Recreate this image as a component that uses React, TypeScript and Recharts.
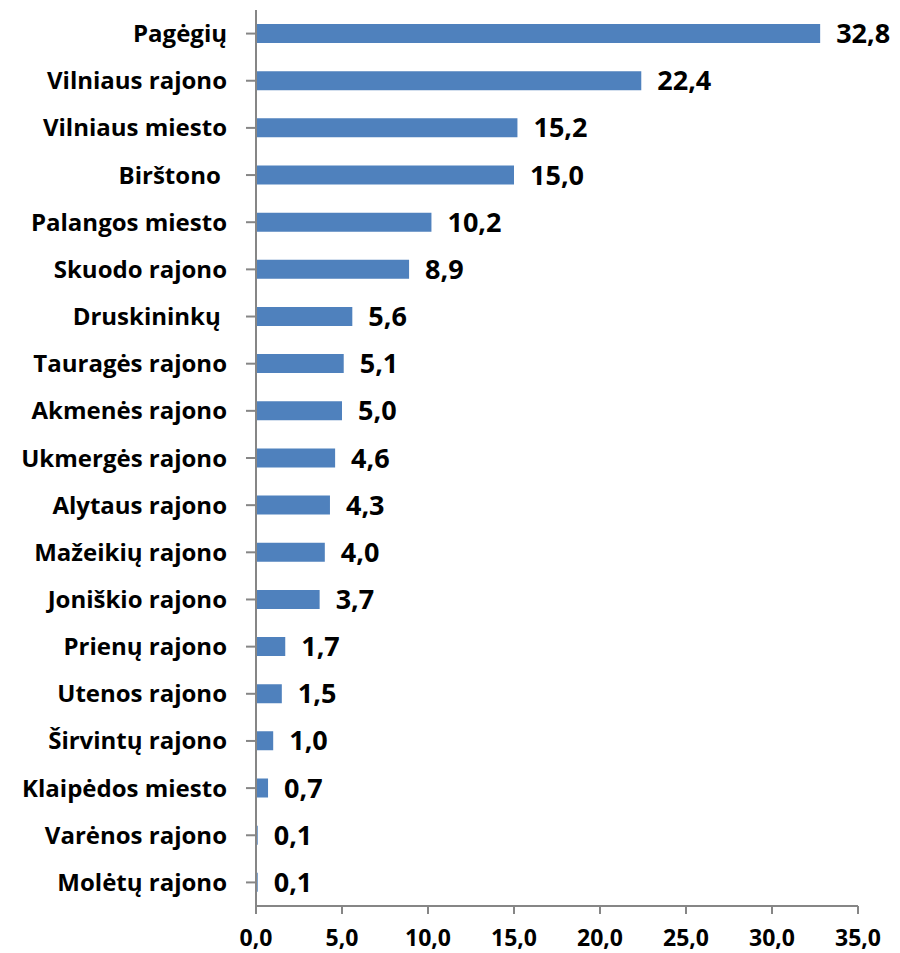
import React from 'react';
import { BarChart, Bar, XAxis, YAxis, LabelList } from 'recharts';

const categories = [
  'Pagėgių', 'Vilniaus rajono', 'Vilniaus miesto', 'Birštono ', 'Palangos miesto',
  'Skuodo rajono', 'Druskininkų ', 'Tauragės rajono', 'Akmenės rajono', 'Ukmergės rajono',
  'Alytaus rajono', 'Mažeikių rajono', 'Joniškio rajono', 'Prienų rajono', 'Utenos rajono',
  'Širvintų rajono', 'Klaipėdos miesto', 'Varėnos rajono', 'Molėtų rajono',
];
const values = [32.8, 22.4, 15.2, 15.0, 10.2, 8.9, 5.6, 5.1, 5.0, 4.6, 4.3, 4.0, 3.7, 1.7, 1.5, 1.0, 0.7, 0.1, 0.1];
const xTicks = [0, 5, 10, 15, 20, 25, 30, 35];

const data = categories.map((name, i) => ({ name, value: values[i] }));
const fmt = (v: number) => v.toFixed(1).replace('.', ',');
const FONT = '"Open Sans", Lato, sans-serif';

export default function App() {
  return (
    <div style={{ width: 890, height: 945 }}>
      <BarChart
        width={890}
        height={945}
        data={data}
        layout="vertical"
        margin={{ top: 2, right: 40, bottom: 7, left: 0 }}
      >
        <XAxis
          type="number"
          domain={[0, 35]}
          ticks={xTicks}
          tickFormatter={fmt}
          stroke="#868686"
          strokeWidth={2}
          tickSize={8}
          tickMargin={16}
          height={40}
          tick={{ fill: '#000', fontSize: 23, fontWeight: 'bold', fontFamily: FONT }}
        />
        <YAxis
          type="category"
          dataKey="name"
          width={248}
          stroke="#868686"
          strokeWidth={2}
          tickSize={10}
          tickMargin={19}
          interval={0}
          tick={{ fill: '#000', fontSize: 24, fontWeight: 'bold', fontFamily: FONT, style: { whiteSpace: 'pre' } }}
        />
        <Bar dataKey="value" fill="#4F81BD" barSize={19} isAnimationActive={false}>
          <LabelList
            dataKey="value"
            position="right"
            offset={16}
            formatter={(v: any) => fmt(Number(v))}
            style={{ fill: '#000', fontSize: 27, fontWeight: 'bold', fontFamily: FONT }}
          />
        </Bar>
      </BarChart>
    </div>
  );
}
